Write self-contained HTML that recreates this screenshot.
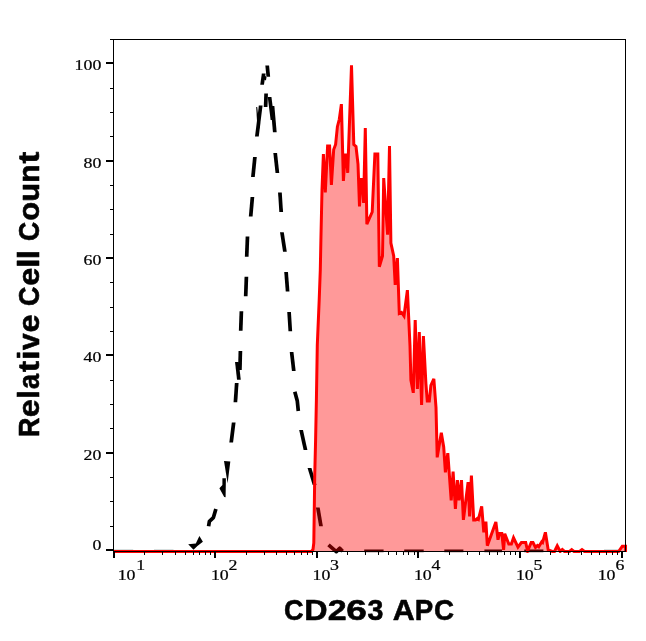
<!DOCTYPE html>
<html><head><meta charset="utf-8"><title>CD263 APC</title>
<style>html,body{margin:0;padding:0;background:#fff;}svg{display:block}</style></head>
<body>
<svg width="646" height="641" viewBox="0 0 646 641">
<rect width="646" height="641" fill="#fff"/>
<rect x="114" y="549" width="19.19999999999999" height="1" fill="#d6dede"/>
<rect x="154" y="549" width="19.5" height="1" fill="#d6dede"/>
<rect x="604" y="549" width="15" height="1" fill="#d6dede"/>
<g stroke="#000" stroke-width="3.7" fill="none" stroke-linecap="butt" stroke-linejoin="round">
<polyline points="208.6,526.3 209.4,521.3 213.4,517.6 215.9,509"/>
<polygon stroke="none" fill="#000" points="229.34,442.5 233.06,442.5 235.56,422.5 231.84,422.5"/>
<polygon stroke="none" fill="#000" points="233.55,402.3 237.25,402.3 238.55,383.1 234.85,383.1"/>
<polygon stroke="none" fill="#000" points="235.04,361.9 238.76,361.9 240.76,379.8 237.04,379.8"/>
<polygon stroke="none" fill="#000" points="238.05,369.9 241.75,369.9 242.25,351.1 238.55,351.1"/>
<polygon stroke="none" fill="#000" points="238.85,330.7 242.55,330.7 243.25,311.2 239.55,311.2"/>
<polygon stroke="none" fill="#000" points="243.85,296.2 247.55,296.2 248.25,276.7 244.55,276.7"/>
<polygon stroke="none" fill="#000" points="244.85,256.8 248.55,256.8 249.35,236.6 245.65,236.6"/>
<polygon stroke="none" fill="#000" points="248.84,216.6 252.56,216.6 254.26,196.9 250.54,196.9"/>
<polygon stroke="none" fill="#000" points="251.04,176.9 254.76,176.9 256.76,156.9 253.04,156.9"/>
<polygon stroke="none" fill="#000" points="255.04,136.5 258.76,136.5 262.56,105.6 258.84,105.6"/>
<polygon stroke="none" fill="#000" points="263.75,107 267.45,107 267.95,93.6 264.25,93.6"/>
<polygon stroke="none" fill="#000" points="260.23,84.8 263.97,84.8 265.57,73.5 261.83,73.5"/>
<polygon stroke="none" fill="#000" points="265.34,65.5 269.06,65.5 270.16,76.8 266.44,76.8"/>
<polygon stroke="none" fill="#000" points="267.74,97.1 271.46,97.1 274.36,120 270.64,120"/>
<polygon stroke="none" fill="#000" points="270.64,106 274.36,106 276.66,132.2 272.94,132.2"/>
<polygon stroke="none" fill="#000" points="273.34,153 277.06,153 279.26,172.9 275.54,172.9"/>
<polygon stroke="none" fill="#000" points="278.05,192.4 281.75,192.4 283.05,211.9 279.35,211.9"/>
<polygon stroke="none" fill="#000" points="280.03,232.3 283.77,232.3 286.77,251.8 283.03,251.8"/>
<polygon stroke="none" fill="#000" points="284.24,272 287.96,272 289.46,291.5 285.74,291.5"/>
<polygon stroke="none" fill="#000" points="287.25,311.9 290.95,311.9 292.15,331.2 288.45,331.2"/>
<polygon stroke="none" fill="#000" points="289.74,351.9 293.46,351.9 295.66,371.1 291.94,371.1"/>
<polyline points="294.8,391.8 297.3,401.1 298.3,411"/>
<polygon stroke="none" fill="#000" points="299.21,430 302.99,430 307.39,449.9 303.61,449.9"/>
<polygon stroke="none" fill="#000" points="307.57,468 311.43,468 316.53,485 312.67,485"/>
<polygon stroke="none" fill="#000" points="315.92,507.4 319.68,507.4 322.88,526.2 319.12,526.2"/>
<polyline points="328.5,544.8 336.3,551.6 339.7,548.2 342.6,551.3"/>
</g>
<g fill="#000">
<polygon points="188.2,544.2 195.8,543.4 199.4,536.0 202.9,541.8 197.4,546.1 193.5,549.7"/>
<polygon points="222.4,478.3 225.9,478.3 225.6,497.3 224.2,497 219.4,488.3 222.4,485"/>
<polygon points="224,461 230.3,461.5 227.6,483.2"/>
<polygon points="256.2,107 257.2,107 259.6,128 257.5,130"/>
<polygon points="263.5,74.5 266.5,77 266,80.5 263,79"/>
</g>
<polygon points="114,551.5 311.3,551.5 313.0,549.5 313.8,543 314.2,515 314.7,477 315.6,440 316.4,400 317.3,345 319.2,300 320.3,270 320.9,240 322,190 323.4,154.07 325.3,192.43 327.6,146.0 329.6,146.0 331.4,184.92 333.7,149.5 335.6,144.5 337.4,126.7 339.3,119.3 341.39,104.12 343.4,180.93 345.2,155.0 346.6,155.0 347.7,172.93 351.5,65.35 353.8,144.5 356,146.5 358,164 359.5,206.44 360.8,179.5 362.3,179.5 363.6,202.94 365.3,128.03 366.86,224.19 372.2,212 374.9,154.0 377.8,154.0 379.33,266.78 382.5,256 383.7,178.06 387.6,234.63 389.5,146.03 390.9,243 393.7,256 395.2,284.9 397.4,258.09 399.3,313.5 401.5,312.5 404,316 407.39,290.13 410,346 410.9,380 413.29,392.84 415.2,320.04 417.4,388.95 419.3,332.05 421.6,404.96 423.4,336.06 425.9,383.5 427.3,401.0 429.3,401.0 430.9,385.5 433.84,378.86 436.0,407.5 437.21,457.36 441.3,432.75 443.7,447 445.4,472.36 447.8,453.15 451.2,500.4 453.1,471.6 455.4,508.9 457.4,480.11 459.1,500.35 461.5,480.12 463.4,519.87 468.09,482.13 469.6,516.43 471.4,475.57 473.7,520.0 475.6,520.0 477.41,518.46 478.43,519.32 481.68,506.45 483.81,532.29 485.89,521.69 487.34,545.7 495.86,522.04 498.01,539.74 499.5,533.5 501.8,533.5 503.6,549.86 504.75,533.73 508.8,544.0 511.4,544.0 513.53,537.77 517.98,547.1 521.4,542.5 525.7,542.5 527.6,551 531.2,542.5 533,542.5 535.5,547.46 537.4,545.54 538.8,546.71 541.75,541.71 542.63,542.42 545.39,532.3 548.2,550 552.3,551.5 554.5,551.5 557.25,545.84 560.2,551.5 562.3,549.6 564.5,551.5 569.5,551.5 571.7,549.6 574,551.5 579.5,551.5 582,549.6 584.5,551.5 618.6,551.5 622.3,546.2 625.6,546.2 625.6,552 625.5,552 114,552" fill="#ff0000" fill-opacity="0.4"/>
<rect x="364.2" y="549.5" width="19.400000000000034" height="2.7" fill="#5a0000"/>
<rect x="404.2" y="549.5" width="19.5" height="2.7" fill="#5a0000"/>
<rect x="444.3" y="549.5" width="19.099999999999966" height="2.7" fill="#5a0000"/>
<rect x="484.4" y="549.5" width="17.600000000000023" height="2.7" fill="#5a0000"/>
<rect x="524.2" y="549.5" width="19.199999999999932" height="2.7" fill="#5a0000"/>
<clipPath id="rc"><rect x="112" y="30" width="515.2" height="523"/></clipPath>
<polyline clip-path="url(#rc)" points="114,551.5 311.3,551.5 313.0,549.5 313.8,543 314.2,515 314.7,477 315.6,440 316.4,400 317.3,345 319.2,300 320.3,270 320.9,240 322,190 323.4,154.07 325.3,192.43 327.6,146.0 329.6,146.0 331.4,184.92 333.7,149.5 335.6,144.5 337.4,126.7 339.3,119.3 341.39,104.12 343.4,180.93 345.2,155.0 346.6,155.0 347.7,172.93 351.5,65.35 353.8,144.5 356,146.5 358,164 359.5,206.44 360.8,179.5 362.3,179.5 363.6,202.94 365.3,128.03 366.86,224.19 372.2,212 374.9,154.0 377.8,154.0 379.33,266.78 382.5,256 383.7,178.06 387.6,234.63 389.5,146.03 390.9,243 393.7,256 395.2,284.9 397.4,258.09 399.3,313.5 401.5,312.5 404,316 407.39,290.13 410,346 410.9,380 413.29,392.84 415.2,320.04 417.4,388.95 419.3,332.05 421.6,404.96 423.4,336.06 425.9,383.5 427.3,401.0 429.3,401.0 430.9,385.5 433.84,378.86 436.0,407.5 437.21,457.36 441.3,432.75 443.7,447 445.4,472.36 447.8,453.15 451.2,500.4 453.1,471.6 455.4,508.9 457.4,480.11 459.1,500.35 461.5,480.12 463.4,519.87 468.09,482.13 469.6,516.43 471.4,475.57 473.7,520.0 475.6,520.0 477.41,518.46 478.43,519.32 481.68,506.45 483.81,532.29 485.89,521.69 487.34,545.7 495.86,522.04 498.01,539.74 499.5,533.5 501.8,533.5 503.6,549.86 504.75,533.73 508.8,544.0 511.4,544.0 513.53,537.77 517.98,547.1 521.4,542.5 525.7,542.5 527.6,551 531.2,542.5 533,542.5 535.5,547.46 537.4,545.54 538.8,546.71 541.75,541.71 542.63,542.42 545.39,532.3 548.2,550 552.3,551.5 554.5,551.5 557.25,545.84 560.2,551.5 562.3,549.6 564.5,551.5 569.5,551.5 571.7,549.6 574,551.5 579.5,551.5 582,549.6 584.5,551.5 618.6,551.5 622.3,546.2 625.6,546.2 625.6,552" fill="none" stroke="#ff0000" stroke-width="3" stroke-linejoin="miter" stroke-miterlimit="4"/>
<g fill="#000" shape-rendering="crispEdges">
<rect x="110" y="39" width="516" height="1"/>
<rect x="113" y="39" width="1" height="513"/>
<rect x="625" y="39" width="1" height="513"/>
<rect x="113" y="551" width="513" height="1"/>
<rect x="106" y="62" width="7" height="2"/>
<rect x="106" y="160" width="7" height="2"/>
<rect x="106" y="257" width="7" height="2"/>
<rect x="106" y="354" width="7" height="2"/>
<rect x="106" y="452" width="7" height="2"/>
<rect x="106" y="549" width="7" height="2"/>
<rect x="110" y="88" width="3" height="1"/>
<rect x="110" y="112" width="3" height="1"/>
<rect x="110" y="136" width="3" height="1"/>
<rect x="110" y="185" width="3" height="1"/>
<rect x="110" y="209" width="3" height="1"/>
<rect x="110" y="234" width="3" height="1"/>
<rect x="110" y="282" width="3" height="1"/>
<rect x="110" y="307" width="3" height="1"/>
<rect x="110" y="331" width="3" height="1"/>
<rect x="110" y="380" width="3" height="1"/>
<rect x="110" y="404" width="3" height="1"/>
<rect x="110" y="428" width="3" height="1"/>
<rect x="110" y="477" width="3" height="1"/>
<rect x="110" y="501" width="3" height="1"/>
<rect x="110" y="526" width="3" height="1"/>
<rect x="113" y="551" width="2" height="7"/>
<rect x="214" y="551" width="2" height="7"/>
<rect x="316" y="551" width="2" height="7"/>
<rect x="417" y="551" width="2" height="7"/>
<rect x="519" y="551" width="2" height="7"/>
<rect x="621" y="551" width="2" height="7"/>
<rect x="144" y="551" width="1" height="4"/>
<rect x="162" y="551" width="1" height="4"/>
<rect x="175" y="551" width="1" height="4"/>
<rect x="185" y="551" width="1" height="4"/>
<rect x="193" y="551" width="1" height="4"/>
<rect x="199" y="551" width="1" height="4"/>
<rect x="205" y="551" width="1" height="4"/>
<rect x="210" y="551" width="1" height="4"/>
<rect x="246" y="551" width="1" height="4"/>
<rect x="264" y="551" width="1" height="4"/>
<rect x="276" y="551" width="1" height="4"/>
<rect x="286" y="551" width="1" height="4"/>
<rect x="294" y="551" width="1" height="4"/>
<rect x="301" y="551" width="1" height="4"/>
<rect x="307" y="551" width="1" height="4"/>
<rect x="312" y="551" width="1" height="4"/>
<rect x="347" y="551" width="1" height="4"/>
<rect x="365" y="551" width="1" height="4"/>
<rect x="378" y="551" width="1" height="4"/>
<rect x="388" y="551" width="1" height="4"/>
<rect x="396" y="551" width="1" height="4"/>
<rect x="403" y="551" width="1" height="4"/>
<rect x="408" y="551" width="1" height="4"/>
<rect x="414" y="551" width="1" height="4"/>
<rect x="449" y="551" width="1" height="4"/>
<rect x="467" y="551" width="1" height="4"/>
<rect x="479" y="551" width="1" height="4"/>
<rect x="489" y="551" width="1" height="4"/>
<rect x="497" y="551" width="1" height="4"/>
<rect x="504" y="551" width="1" height="4"/>
<rect x="510" y="551" width="1" height="4"/>
<rect x="515" y="551" width="1" height="4"/>
<rect x="550" y="551" width="1" height="4"/>
<rect x="568" y="551" width="1" height="4"/>
<rect x="581" y="551" width="1" height="4"/>
<rect x="591" y="551" width="1" height="4"/>
<rect x="599" y="551" width="1" height="4"/>
<rect x="606" y="551" width="1" height="4"/>
<rect x="612" y="551" width="1" height="4"/>
<rect x="617" y="551" width="1" height="4"/>
</g>
<g font-family="Liberation Serif, serif" font-size="15.1" fill="#000" stroke="#000" stroke-width="0.25" opacity="0.995">
<text transform="translate(101.3,70.2) scale(1.18,1)" text-anchor="end">100</text>
<text transform="translate(101.3,168.2) scale(1.18,1)" text-anchor="end">80</text>
<text transform="translate(101.3,265.2) scale(1.18,1)" text-anchor="end">60</text>
<text transform="translate(101.3,362.3) scale(1.18,1)" text-anchor="end">40</text>
<text transform="translate(101.3,460.3) scale(1.18,1)" text-anchor="end">20</text>
<text transform="translate(101.3,550.2) scale(1.18,1)" text-anchor="end">0</text>
<text transform="translate(117.7,580.2) scale(1.18,1)">10</text>
<text transform="translate(136.2,570) scale(1.18,1)">1</text>
<text transform="translate(210.89999999999998,580.2) scale(1.18,1)">10</text>
<text transform="translate(228.4,570) scale(1.18,1)">2</text>
<text transform="translate(312.5,580.2) scale(1.18,1)">10</text>
<text transform="translate(330.1,570) scale(1.18,1)">3</text>
<text transform="translate(413.9,580.2) scale(1.18,1)">10</text>
<text transform="translate(431.5,570) scale(1.18,1)">4</text>
<text transform="translate(515.9000000000001,580.2) scale(1.18,1)">10</text>
<text transform="translate(533.4,570) scale(1.18,1)">5</text>
<text transform="translate(597.7,580.2) scale(1.18,1)">10</text>
<text transform="translate(615.4,570) scale(1.18,1)">6</text>
</g>
<g font-family="Liberation Sans, sans-serif" font-weight="bold" font-size="30.3" fill="#000" stroke="#000" stroke-width="0.6" stroke-linejoin="round" opacity="0.995">
<text transform="translate(284.10,620.4) scale(0.895,1)">C</text>
<text transform="translate(304.22,620.4) scale(1.065,1)">D</text>
<text transform="translate(327.87,620.4) scale(1.121,1)">2</text>
<text transform="translate(346.33,620.4) scale(1.220,1)">6</text>
<text transform="translate(367.59,620.4) scale(0.944,1)">3</text>
<text transform="translate(392.70,620.4) scale(1.003,1)">A</text>
<text transform="translate(414.87,620.4) scale(0.914,1)">P</text>
<text transform="translate(434.09,620.4) scale(0.915,1)">C</text>
<text transform="translate(38.9,437.08) rotate(-90) scale(0.888,1)">R</text>
<text transform="translate(38.9,417.28) rotate(-90) scale(1.063,1)">e</text>
<text transform="translate(38.9,398.70) rotate(-90) scale(0.985,1)">l</text>
<text transform="translate(38.9,389.00) rotate(-90) scale(0.894,1)">a</text>
<text transform="translate(38.9,372.00) rotate(-90) scale(1.090,1)">t</text>
<text transform="translate(38.9,360.02) rotate(-90) scale(1.156,1)">i</text>
<text transform="translate(38.9,349.93) rotate(-90) scale(0.990,1)">v</text>
<text transform="translate(38.9,332.49) rotate(-90) scale(1.069,1)">e</text>
<text transform="translate(38.9,305.99) rotate(-90) scale(0.885,1)">C</text>
<text transform="translate(38.9,285.69) rotate(-90) scale(1.069,1)">e</text>
<text transform="translate(38.9,267.70) rotate(-90) scale(1.092,1)">l</text>
<text transform="translate(38.9,259.24) rotate(-90) scale(1.113,1)">l</text>
<text transform="translate(38.9,240.88) rotate(-90) scale(0.880,1)">C</text>
<text transform="translate(38.9,220.65) rotate(-90) scale(1.021,1)">o</text>
<text transform="translate(38.9,201.83) rotate(-90) scale(1.018,1)">u</text>
<text transform="translate(38.9,182.76) rotate(-90) scale(0.992,1)">n</text>
<text transform="translate(38.9,163.60) rotate(-90) scale(1.170,1)">t</text>
</g>
</svg>
</body></html>
